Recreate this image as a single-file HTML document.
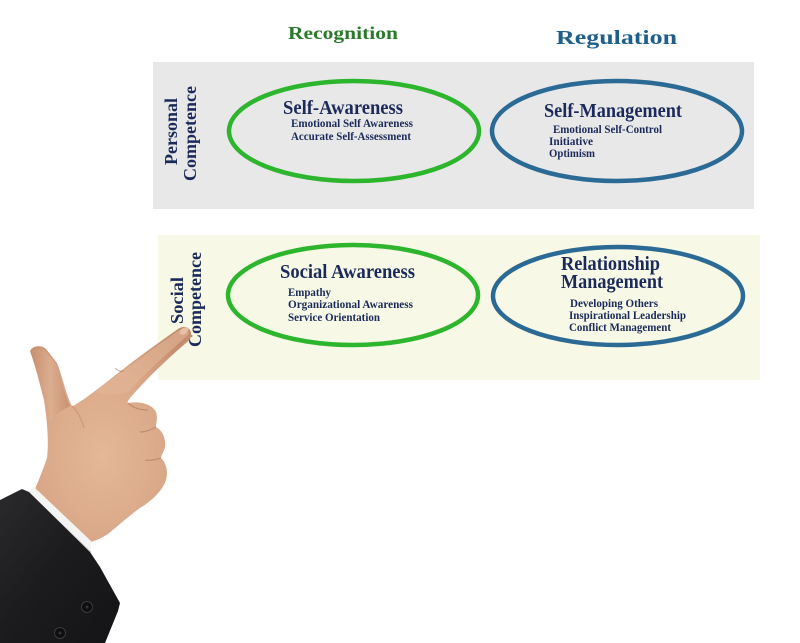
<!DOCTYPE html>
<html>
<head>
<meta charset="utf-8">
<style>
  html,body{margin:0;padding:0;background:#ffffff;}
  body{width:800px;height:643px;overflow:hidden;}
  svg{display:block;}
  .t{font-family:"Liberation Serif","Times New Roman",serif;font-weight:bold;fill:#1b2a5a;}
</style>
</head>
<body>
<svg width="800" height="643" viewBox="0 0 800 643" xmlns="http://www.w3.org/2000/svg">
  <defs>
    <radialGradient id="skin" cx="0.45" cy="0.6" r="0.7">
      <stop offset="0" stop-color="#e4b898"/>
      <stop offset="0.6" stop-color="#d9a787"/>
      <stop offset="1" stop-color="#c38c6d"/>
    </radialGradient>
    <linearGradient id="suit" x1="0" y1="0" x2="1" y2="1">
      <stop offset="0" stop-color="#2a2a2c"/>
      <stop offset="0.5" stop-color="#1b1b1d"/>
      <stop offset="1" stop-color="#141416"/>
    </linearGradient>
    <linearGradient id="thumbg" x1="0" y1="0" x2="1" y2="0">
      <stop offset="0" stop-color="#c98f70"/>
      <stop offset="0.5" stop-color="#deb093"/>
      <stop offset="1" stop-color="#c28a6c"/>
    </linearGradient>
  </defs>

  <!-- Titles -->
  <text class="t" x="288" y="39" font-size="18" textLength="110" lengthAdjust="spacingAndGlyphs" style="fill:#2b7a2b">Recognition</text>
  <text class="t" x="556" y="44" font-size="20" textLength="121" lengthAdjust="spacingAndGlyphs" style="fill:#1f5f8b">Regulation</text>

  <!-- Panels -->
  <rect x="153" y="62" width="601" height="147" fill="#e8e8e8"/>
  <rect x="158" y="235" width="602" height="145" fill="#f7f9e6"/>

  <!-- Vertical labels -->
  <text class="t" font-size="18" text-anchor="middle" textLength="67" lengthAdjust="spacingAndGlyphs" transform="translate(177,131.5) rotate(-90)">Personal</text>
  <text class="t" font-size="18" text-anchor="middle" textLength="95" lengthAdjust="spacingAndGlyphs" transform="translate(196,133.5) rotate(-90)">Competence</text>
  <text class="t" font-size="18" text-anchor="middle" textLength="47" lengthAdjust="spacingAndGlyphs" transform="translate(183,300.5) rotate(-90)">Social</text>
  <text class="t" font-size="18" text-anchor="middle" textLength="95" lengthAdjust="spacingAndGlyphs" transform="translate(201,299.5) rotate(-90)">Competence</text>

  <!-- Ellipses -->
  <ellipse cx="354" cy="131" rx="125" ry="50" fill="none" stroke="#2db52d" stroke-width="4.5"/>
  <ellipse cx="617" cy="131" rx="125" ry="50" fill="none" stroke="#2c6a96" stroke-width="4.5"/>
  <ellipse cx="353" cy="295" rx="125" ry="50" fill="none" stroke="#2db52d" stroke-width="4.5"/>
  <ellipse cx="618" cy="296" rx="125" ry="49" fill="none" stroke="#2c6a96" stroke-width="4.5"/>

  <!-- Self-Awareness -->
  <text class="t" x="283" y="114" font-size="20" textLength="120" lengthAdjust="spacingAndGlyphs">Self-Awareness</text>
  <text class="t" x="291" y="127" font-size="12" textLength="122" lengthAdjust="spacingAndGlyphs">Emotional Self Awareness</text>
  <text class="t" x="291" y="140" font-size="12" textLength="120" lengthAdjust="spacingAndGlyphs">Accurate Self-Assessment</text>

  <!-- Self-Management -->
  <text class="t" x="544" y="117" font-size="20" textLength="138" lengthAdjust="spacingAndGlyphs">Self-Management</text>
  <text class="t" x="553" y="133" font-size="12" textLength="109" lengthAdjust="spacingAndGlyphs">Emotional Self-Control</text>
  <text class="t" x="549" y="145" font-size="12" textLength="44" lengthAdjust="spacingAndGlyphs">Initiative</text>
  <text class="t" x="549" y="157" font-size="12" textLength="46" lengthAdjust="spacingAndGlyphs">Optimism</text>

  <!-- Social Awareness -->
  <text class="t" x="280" y="278" font-size="20" textLength="135" lengthAdjust="spacingAndGlyphs">Social Awareness</text>
  <text class="t" x="288" y="296" font-size="12" textLength="43" lengthAdjust="spacingAndGlyphs">Empathy</text>
  <text class="t" x="288" y="308" font-size="12" textLength="125" lengthAdjust="spacingAndGlyphs">Organizational Awareness</text>
  <text class="t" x="288" y="321" font-size="12" textLength="92" lengthAdjust="spacingAndGlyphs">Service Orientation</text>

  <!-- Relationship Management -->
  <text class="t" x="561" y="270" font-size="20" textLength="99" lengthAdjust="spacingAndGlyphs">Relationship</text>
  <text class="t" x="561" y="288" font-size="20" textLength="102" lengthAdjust="spacingAndGlyphs">Management</text>
  <text class="t" x="570" y="307" font-size="12" textLength="88" lengthAdjust="spacingAndGlyphs">Developing Others</text>
  <text class="t" x="569" y="319" font-size="12" textLength="117" lengthAdjust="spacingAndGlyphs">Inspirational Leadership</text>
  <text class="t" x="569" y="331" font-size="12" textLength="102" lengthAdjust="spacingAndGlyphs">Conflict Management</text>

  <!-- Hand -->
  <path d="M30,351 C33,345 42,345 46,349 L57,363 C62,375 66,395 72,406 C74,406 76,404 78,403
           C95,392 115,375 135,360 C150,349 165,338 178,329 C184,325 190,327 191,333
           C192,338 189,341 186,343 C172,355 150,375 130,398 C128,401 127,402 128,403
           C140,401 152,404 156,412 C158,418 156,424 156,427 C162,430 166,438 165,447
           C164,452 161,455 161,458 C167,464 168,472 166,480 C162,492 150,502 140,508
           C130,515 118,526 108,534 C100,539 95,541 90,542 L35,489
           C38,482 43,470 47,458 C49,440 47,420 44,400 C40,385 36,368 30,351 Z"
        fill="url(#skin)"/>
  <!-- thumb shading -->
  <path d="M31,352 C34,347 42,347 45,350 L56,364 C61,376 64,394 70,406 C62,410 56,414 50,420 C48,405 44,390 40,378 C36,368 33,360 31,352 Z" fill="url(#thumbg)" opacity="0.8"/>
  <!-- index finger highlight -->
  <path d="M95,392 C115,377 140,358 178,331 C184,328 188,330 189,334 C175,347 150,368 128,392 C115,395 105,396 95,392 Z" fill="#e2b697" opacity="0.6"/>
  <!-- nail -->
  <ellipse cx="184" cy="331" rx="5" ry="3" transform="rotate(-35 184 331)" fill="#e9c3ad" opacity="0.9"/>
  <!-- creases -->
  <path d="M128,403 C133,408 140,410 148,410" stroke="#b27a5d" stroke-width="1.2" fill="none" opacity="0.7"/>
  <path d="M156,427 C150,430 146,432 140,432" stroke="#b27a5d" stroke-width="1.2" fill="none" opacity="0.6"/>
  <path d="M161,458 C155,460 150,461 145,460" stroke="#b27a5d" stroke-width="1.2" fill="none" opacity="0.6"/>
  <path d="M115,368 C118,371 121,372 124,371" stroke="#b27a5d" stroke-width="1" fill="none" opacity="0.6"/>
  <path d="M72,406 C78,412 82,420 84,428" stroke="#b8825f" stroke-width="1.2" fill="none" opacity="0.5"/>

  <!-- Cuff -->
  <path d="M34,487 L91,541 L91,552 L28,492 Z" fill="#f4f4f2"/>
  <path d="M28,492 L91,552" stroke="#d8d8d8" stroke-width="1"/>

  <!-- Suit sleeve -->
  <path d="M0,500 L22,489 L29,492 L90,552 L100,567 L120,603 L118,611 L105,643 L0,643 Z" fill="url(#suit)"/>
  <!-- buttons -->
  <circle cx="87" cy="607" r="5.5" fill="#0e0e10" stroke="#3a3a3c" stroke-width="1"/>
  <circle cx="87" cy="607" r="1.5" fill="#333"/>
  <circle cx="60" cy="633" r="5.5" fill="#0e0e10" stroke="#3a3a3c" stroke-width="1"/>
  <circle cx="60" cy="633" r="1.5" fill="#333"/>
</svg>
</body>
</html>
